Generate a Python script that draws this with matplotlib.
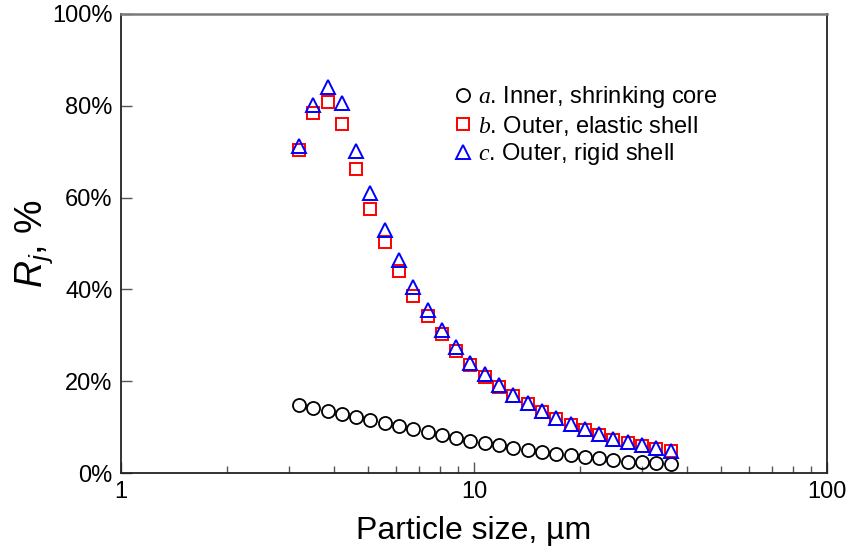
import matplotlib
matplotlib.use('Agg')
import matplotlib.pyplot as plt
from matplotlib.ticker import PercentFormatter, FixedLocator, NullFormatter, FuncFormatter, LogLocator

plt.rcParams['font.family'] = ['Liberation Sans', 'DejaVu Sans']
plt.rcParams['mathtext.fontset'] = 'custom'
plt.rcParams['mathtext.rm'] = 'Liberation Sans'
plt.rcParams['mathtext.it'] = 'Liberation Sans:italic'
plt.rcParams['mathtext.cal'] = 'Liberation Serif:italic'

# particle size, um
size = [3.19, 3.50, 3.85, 4.22, 4.63, 5.09, 5.58, 6.13, 6.73, 7.39, 8.11, 8.90, 9.77,
        10.73, 11.78, 12.93, 14.19, 15.58, 17.10, 18.77, 20.61, 22.62, 24.83, 27.26,
        29.92, 32.85, 36.06]

# R_j, %
inner_core = [14.8, 14.1, 13.5, 12.9, 12.2, 11.5, 10.8, 10.2, 9.5, 8.9, 8.2, 7.6, 7.0,
              6.5, 6.0, 5.4, 5.0, 4.6, 4.2, 3.9, 3.6, 3.2, 2.8, 2.5, 2.3, 2.2, 2.0]
outer_elastic = [70.4, 78.4, 80.9, 76.0, 66.2, 57.6, 50.4, 44.1, 38.6, 34.1, 30.2, 26.6, 23.5,
                 21.0, 18.8, 16.8, 15.0, 13.3, 11.8, 10.5, 9.4, 8.3, 7.3, 6.6, 5.9, 5.3, 4.8]
outer_rigid = [71.2, 80.2, 84.0, 80.5, 70.2, 60.9, 52.9, 46.3, 40.5, 35.5, 31.2, 27.5, 24.0,
               21.6, 19.2, 17.0, 15.2, 13.6, 12.0, 10.7, 9.6, 8.5, 7.5, 6.8, 6.1, 5.5, 4.9]

labels = [r'$\mathcal{a}$. Inner, shrinking core',
          r'$\mathcal{b}$. Outer, elastic shell',
          r'$\mathcal{c}$. Outer, rigid shell']

fig = plt.figure(figsize=(8.48, 5.55), dpi=100)
ax = fig.add_axes([0.1427, 0.1477, 0.8325, 0.8271])

ax.plot(size, inner_core, 'o', ms=9.4, mfc='none', mec='black', mew=1.3, label=labels[0])
ax.plot(size, outer_elastic, 's', ms=9.2, mfc='none', mec='#ff0000', mew=1.4, label=labels[1])
ax.plot(size, outer_rigid, '^', ms=9.6, mfc='none', mec='#0000ff', mew=1.4, label=labels[2])

ax.set_xscale('log')
ax.set_xlim(1, 100)
ax.set_ylim(0, 100)
ax.yaxis.set_major_locator(FixedLocator([0, 20, 40, 60, 80, 100]))
ax.yaxis.set_major_formatter(PercentFormatter(100, decimals=0))
ax.xaxis.set_major_locator(FixedLocator([1, 10, 100]))
ax.xaxis.set_major_formatter(FuncFormatter(lambda v, p: '%g' % v))
ax.xaxis.set_minor_locator(LogLocator(base=10, subs=range(2, 10)))
ax.xaxis.set_minor_formatter(NullFormatter())

ax.tick_params(which='major', direction='in', length=8, width=1, color='#555555',
               labelsize=17, pad=6)
ax.tick_params(axis='x', which='minor', direction='in', length=5, width=1, color='#555555')
ax.tick_params(axis='y', which='minor', left=False)

for s in ['left', 'bottom', 'right']:
    ax.spines[s].set_color('#222222')
    ax.spines[s].set_linewidth(1.3)
ax.spines['top'].set_color('#7a7a7a')
ax.spines['top'].set_linewidth(1.8)

ax.set_xlabel('Particle size, µm', fontsize=23, labelpad=9)
ax.set_ylabel(r'$R_j$, %', fontsize=27, labelpad=-2)

ax.legend(loc='upper left', bbox_to_anchor=(0.454, 0.868), frameon=False, fontsize=17,
          handletextpad=0.15, handlelength=1.0, labelspacing=0.15, borderaxespad=0)

fig.savefig('out.png', dpi=100)
